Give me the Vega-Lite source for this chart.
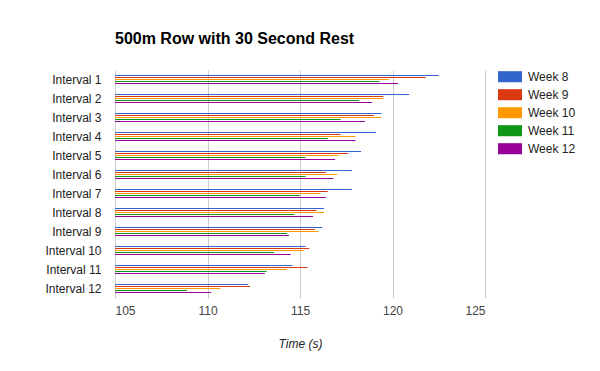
{
  "$schema": "https://vega.github.io/schema/vega-lite/v6.json",
  "autosize": {"type": "none"},
  "width": 370,
  "height": 228,
  "padding": {"left": 115, "top": 70, "right": 115, "bottom": 73},
  "background": "white",
  "title": {
    "text": "500m Row with 30 Second Rest",
    "anchor": "start",
    "frame": "group",
    "font": "Liberation Sans",
    "fontSize": 16,
    "fontWeight": "bold",
    "color": "#000000",
    "offset": 18
  },
  "config": {
    "view": {"stroke": null},
    "font": "Liberation Sans"
  },
  "data": {
    "values": [
      {"interval": "Interval 1", "week": "Week 8", "time": 122.5},
      {"interval": "Interval 1", "week": "Week 9", "time": 121.8},
      {"interval": "Interval 1", "week": "Week 10", "time": 119.8},
      {"interval": "Interval 1", "week": "Week 11", "time": 119.3},
      {"interval": "Interval 1", "week": "Week 12", "time": 120.3},
      {"interval": "Interval 2", "week": "Week 8", "time": 120.9},
      {"interval": "Interval 2", "week": "Week 9", "time": 119.5},
      {"interval": "Interval 2", "week": "Week 10", "time": 119.5},
      {"interval": "Interval 2", "week": "Week 11", "time": 118.2},
      {"interval": "Interval 2", "week": "Week 12", "time": 118.9},
      {"interval": "Interval 3", "week": "Week 8", "time": 119.4},
      {"interval": "Interval 3", "week": "Week 9", "time": 119.0},
      {"interval": "Interval 3", "week": "Week 10", "time": 119.4},
      {"interval": "Interval 3", "week": "Week 11", "time": 117.2},
      {"interval": "Interval 3", "week": "Week 12", "time": 118.5},
      {"interval": "Interval 4", "week": "Week 8", "time": 119.1},
      {"interval": "Interval 4", "week": "Week 9", "time": 117.2},
      {"interval": "Interval 4", "week": "Week 10", "time": 118.0},
      {"interval": "Interval 4", "week": "Week 11", "time": 116.5},
      {"interval": "Interval 4", "week": "Week 12", "time": 118.0},
      {"interval": "Interval 5", "week": "Week 8", "time": 118.3},
      {"interval": "Interval 5", "week": "Week 9", "time": 117.6},
      {"interval": "Interval 5", "week": "Week 10", "time": 117.1},
      {"interval": "Interval 5", "week": "Week 11", "time": 115.3},
      {"interval": "Interval 5", "week": "Week 12", "time": 116.9},
      {"interval": "Interval 6", "week": "Week 8", "time": 117.8},
      {"interval": "Interval 6", "week": "Week 9", "time": 116.4},
      {"interval": "Interval 6", "week": "Week 10", "time": 117.0},
      {"interval": "Interval 6", "week": "Week 11", "time": 115.3},
      {"interval": "Interval 6", "week": "Week 12", "time": 116.8},
      {"interval": "Interval 7", "week": "Week 8", "time": 117.8},
      {"interval": "Interval 7", "week": "Week 9", "time": 116.5},
      {"interval": "Interval 7", "week": "Week 10", "time": 116.1},
      {"interval": "Interval 7", "week": "Week 11", "time": 115.0},
      {"interval": "Interval 7", "week": "Week 12", "time": 116.4},
      {"interval": "Interval 8", "week": "Week 8", "time": 116.3},
      {"interval": "Interval 8", "week": "Week 9", "time": 115.9},
      {"interval": "Interval 8", "week": "Week 10", "time": 116.3},
      {"interval": "Interval 8", "week": "Week 11", "time": 114.7},
      {"interval": "Interval 8", "week": "Week 12", "time": 115.7},
      {"interval": "Interval 9", "week": "Week 8", "time": 116.2},
      {"interval": "Interval 9", "week": "Week 9", "time": 115.8},
      {"interval": "Interval 9", "week": "Week 10", "time": 116.0},
      {"interval": "Interval 9", "week": "Week 11", "time": 114.3},
      {"interval": "Interval 9", "week": "Week 12", "time": 114.4},
      {"interval": "Interval 10", "week": "Week 8", "time": 115.3},
      {"interval": "Interval 10", "week": "Week 9", "time": 115.5},
      {"interval": "Interval 10", "week": "Week 10", "time": 115.2},
      {"interval": "Interval 10", "week": "Week 11", "time": 113.6},
      {"interval": "Interval 10", "week": "Week 12", "time": 114.5},
      {"interval": "Interval 11", "week": "Week 8", "time": 114.6},
      {"interval": "Interval 11", "week": "Week 9", "time": 115.4},
      {"interval": "Interval 11", "week": "Week 10", "time": 114.3},
      {"interval": "Interval 11", "week": "Week 11", "time": 113.2},
      {"interval": "Interval 11", "week": "Week 12", "time": 113.1},
      {"interval": "Interval 12", "week": "Week 8", "time": 112.2},
      {"interval": "Interval 12", "week": "Week 9", "time": 112.3},
      {"interval": "Interval 12", "week": "Week 10", "time": 110.7},
      {"interval": "Interval 12", "week": "Week 11", "time": 108.9},
      {"interval": "Interval 12", "week": "Week 12", "time": 110.2}
    ]
  },
  "mark": {"type": "bar", "clip": true, "cornerRadius": 0},
  "encoding": {
    "y": {
      "field": "interval",
      "type": "nominal",
      "sort": null,
      "scale": {"paddingInner": 0.47, "paddingOuter": 0.235},
      "axis": {
        "title": null,
        "ticks": false,
        "domain": false,
        "labelFontSize": 12,
        "labelColor": "#222222",
        "labelPadding": 14,
        "labelFont": "Liberation Sans"
      }
    },
    "yOffset": {
      "field": "week",
      "type": "nominal",
      "sort": ["Week 8", "Week 9", "Week 10", "Week 11", "Week 12"],
      "scale": {"paddingInner": 0.5, "paddingOuter": 0.25}
    },
    "x": {
      "field": "time",
      "type": "quantitative",
      "scale": {"domain": [105, 125], "nice": false, "zero": false},
      "axis": {
        "title": "Time (s)",
        "titleFontStyle": "italic",
        "titleFontWeight": "normal",
        "titleFontSize": 12,
        "titleColor": "#222222",
        "titlePadding": 22,
        "titleFont": "Liberation Sans",
        "values": [105, 110, 115, 120, 125],
        "ticks": false,
        "domain": false,
        "grid": true,
        "gridColor": "#cccccc",
        "gridWidth": 1,
        "labelFontSize": 12,
        "labelColor": "#444444",
        "labelPadding": 7,
        "labelFont": "Liberation Sans"
      }
    },
    "color": {
      "field": "week",
      "type": "nominal",
      "sort": ["Week 8", "Week 9", "Week 10", "Week 11", "Week 12"],
      "scale": {
        "domain": ["Week 8", "Week 9", "Week 10", "Week 11", "Week 12"],
        "range": ["#3366cc", "#dc3912", "#ff9900", "#109618", "#990099"]
      },
      "legend": {
        "title": null,
        "orient": "none",
        "legendX": 383,
        "legendY": -5.3,
        "padding": 0,
        "symbolType": "M-1,-0.46H1V0.46H-1Z",
        "symbolSize": 576,
        "symbolStrokeWidth": 0,
        "symbolOpacity": 1,
        "labelFontSize": 12,
        "labelColor": "#222222",
        "labelFont": "Liberation Sans",
        "labelOffset": 6,
        "rowPadding": -5
      }
    }
  }
}
